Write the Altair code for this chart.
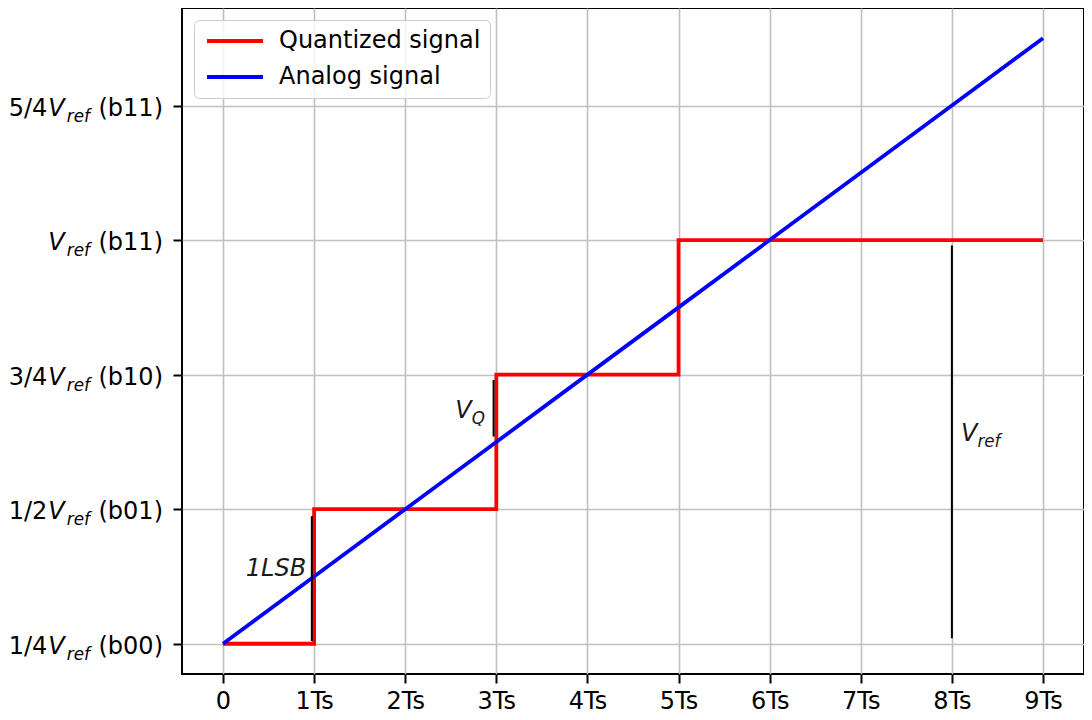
import altair as alt
import pandas as pd

# ---- data ----
series_names = ["Quantized signal", "Analog signal"]
series_colors = ["red", "blue"]

quant_x = [0, 1, 2, 3, 4, 5, 6, 7, 8, 9]
quant_y = [0.25, 0.5, 0.5, 0.75, 0.75, 1.0, 1.0, 1.0, 1.0, 1.0]

analog_x = [0, 1, 2, 3, 4, 5, 6, 7, 8, 9]
analog_y = [0.25, 0.375, 0.5, 0.625, 0.75, 0.875, 1.0, 1.125, 1.25, 1.375]

xtick_values = [0, 1, 2, 3, 4, 5, 6, 7, 8, 9]
xtick_labels = ["0", "1Ts", "2Ts", "3Ts", "4Ts", "5Ts", "6Ts", "7Ts", "8Ts", "9Ts"]

ytick_values = [0.25, 0.5, 0.75, 1.0, 1.25]
ytick_prefix = ["1/4", "1/2", "3/4", "", "5/4"]
ytick_code = ["(b00)", "(b01)", "(b10)", "(b11)", "(b11)"]

# measurement bars (x, y start, y end)
bar_x = [0.975, 2.97, 8.0]
bar_y1 = [0.255, 0.635, 0.26]
bar_y2 = [0.487, 0.74, 0.99]

# annotation labels
ann_x = [0.25, 2.55, 8.1]
ann_y = [0.375, 0.67, 0.627]
ann_main = ["1LSB", "V", "V"]
ann_sub = ["", "Q", "ref"]

# ---- tables ----
qdf = pd.DataFrame({"x": quant_x, "y": quant_y, "series": series_names[0]})
adf = pd.DataFrame({"x": analog_x, "y": analog_y, "series": series_names[1]})
bdf = pd.DataFrame({"x": bar_x, "y": bar_y1, "y2": bar_y2})
ndf = pd.DataFrame({"x": ann_x, "y": ann_y, "main": ann_main, "sub": ann_sub})
sdf = ndf[ndf["sub"] != ""]
ydf = pd.DataFrame({"y": ytick_values, "prefix": ytick_prefix, "code": ytick_code})

FONT = "DejaVu Sans"
S = 24
SUB = round(0.7 * S, 1)

xscale = alt.Scale(domain=[-0.45, 9.45], nice=False, zero=False)
yscale = alt.Scale(domain=[0.19375, 1.43125], nice=False, zero=False)
cscale = alt.Scale(domain=series_names, range=series_colors)

label_expr = "[" + ",".join("'%s'" % l for l in xtick_labels) + "][datum.value]"

xaxis = alt.Axis(values=xtick_values, labelExpr=label_expr, title=None, grid=True,
                 domain=False, tickSize=9, tickWidth=2, tickColor="black",
                 labelFontSize=S, labelFont=FONT, labelColor="black", labelPadding=6,
                 gridColor="#c0c0c0", gridWidth=1.6)
yaxis = alt.Axis(values=ytick_values, labels=False, title=None, grid=True,
                 domain=False, tickSize=9, tickWidth=2, tickColor="black",
                 gridColor="#c0c0c0", gridWidth=1.6)

legend = alt.Legend(title=None, orient="top-left", offset=12, padding=9, rowPadding=12,
                    labelFontSize=S, labelFont=FONT, labelColor="black", labelLimit=500,
                    symbolType="M-1,0H6", symbolSize=256, symbolStrokeWidth=3.8,
                    labelOffset=52, fillColor="rgba(255,255,255,0.8)",
                    strokeColor="#cccccc", cornerRadius=5)

color = alt.Color("series:N", scale=cscale, legend=legend)

quant = alt.Chart(qdf).mark_line(interpolate="step-after", strokeWidth=3.8).encode(
    x=alt.X("x:Q", scale=xscale, axis=xaxis),
    y=alt.Y("y:Q", scale=yscale, axis=yaxis),
    color=color,
)
analog = alt.Chart(adf).mark_line(strokeWidth=3.8).encode(
    x=alt.X("x:Q", scale=xscale),
    y=alt.Y("y:Q", scale=yscale),
    color=color,
)
bars = alt.Chart(bdf).mark_rule(color="black", strokeWidth=2).encode(
    x=alt.X("x:Q", scale=xscale),
    y=alt.Y("y:Q", scale=yscale),
    y2="y2:Q",
)
ann_main_t = alt.Chart(ndf).mark_text(align="left", baseline="alphabetic", font=FONT,
                                      fontSize=S, fontStyle="italic", color="#1a1a1a").encode(
    x=alt.X("x:Q", scale=xscale),
    y=alt.Y("y:Q", scale=yscale),
    text="main:N",
)
ann_sub_t = alt.Chart(sdf).mark_text(align="left", baseline="alphabetic", font=FONT,
                                     fontSize=SUB, fontStyle="italic", color="#1a1a1a",
                                     dx=round(0.684 * S, 1), dy=6).encode(
    x=alt.X("x:Q", scale=xscale),
    y=alt.Y("y:Q", scale=yscale),
    text="sub:N",
)

# y tick labels with subscript, built from pieces (right to left)
G = 19
W_CODE = 3.005 * S + 1
W_REF = 1.378 * SUB + 2
W_V = 0.684 * S + 1
DY = 10

def ypiece(text_enc, dx, size, italic, dy):
    kw = dict(align="right", baseline="alphabetic", font=FONT, fontSize=size,
              color="black", dx=-dx, dy=dy)
    if italic:
        kw["fontStyle"] = "italic"
    return alt.Chart(ydf).mark_text(**kw).encode(
        x=alt.value(0),
        y=alt.Y("y:Q", scale=yscale),
        text=text_enc,
    )

y_code = ypiece(alt.Text("code:N"), G, S, False, DY)
y_ref = ypiece(alt.value("ref"), G + W_CODE, SUB, True, DY + 6)
y_v = ypiece(alt.value("V"), G + W_CODE + W_REF, S, True, DY)
y_pre = ypiece(alt.Text("prefix:N"), G + W_CODE + W_REF + W_V, S, False, DY)

chart = alt.layer(
    quant, analog, bars, ann_main_t, ann_sub_t, y_code, y_ref, y_v, y_pre
).properties(
    width=902, height=666, background="white",
    padding={"left": 0, "top": 0, "right": 0, "bottom": 0},
).configure_view(
    stroke="black", strokeWidth=2
)

chart.save("out.html", embed_options={"renderer": "svg", "actions": False})
